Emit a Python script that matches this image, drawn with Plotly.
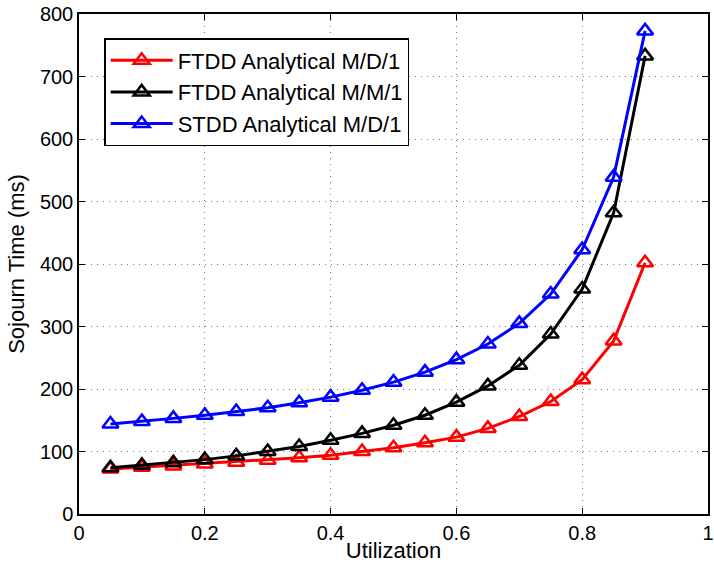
import plotly.graph_objects as go

utilization = [0.05, 0.10, 0.15, 0.20, 0.25, 0.30, 0.35, 0.40, 0.45, 0.50,
               0.55, 0.60, 0.65, 0.70, 0.75, 0.80, 0.85, 0.90]
ftdd_md1 = [72, 75, 77, 80, 83, 86, 90, 94, 100, 106, 114, 123, 137, 156, 180, 215, 277, 402]
ftdd_mm1 = [74, 78, 82, 87, 93, 100, 108, 118, 129, 142, 158, 179, 205, 238, 288, 360, 482, 733]
stdd_md1 = [144, 148, 153, 158, 164, 170, 178, 187, 198, 211, 227, 247, 272, 305, 352, 423, 539, 773]

names = ["FTDD Analytical M/D/1", "FTDD Analytical M/M/1", "STDD Analytical M/D/1"]
colors = ["#ff0000", "#000000", "#0000ff"]

fig = go.Figure()
for name, ys, c in zip(names, [ftdd_md1, ftdd_mm1, stdd_md1], colors):
    fig.add_trace(go.Scatter(
        x=utilization, y=ys, name=name, mode="lines+markers",
        line=dict(color=c, width=3),
        marker=dict(symbol="triangle-up-open", size=14, color=c, line=dict(width=2.5, color=c)),
    ))

axis_common = dict(
    showline=True, linecolor="black", linewidth=1.5, mirror="ticks",
    ticks="inside", ticklen=6, tickcolor="black", tickwidth=1,
    showgrid=True, gridcolor="#777777", griddash="1px,5px", gridwidth=1,
    zeroline=False, automargin=False, ticklabeloverflow="allow",
    tickfont=dict(family="Liberation Sans, Arial", size=20, color="black"),
)

fig.update_layout(
    width=714, height=569,
    margin=dict(l=79, r=6, t=14, b=55),
    paper_bgcolor="white", plot_bgcolor="white",
    font=dict(family="Liberation Sans, Arial", color="black"),
    xaxis=dict(range=[0, 1], dtick=0.2, title=dict(text="Utilization", font=dict(size=22), standoff=0), **axis_common),
    yaxis=dict(range=[0, 800], dtick=100, title=dict(text="Sojourn Time (ms)", font=dict(size=22), standoff=9), **axis_common),
    legend=dict(x=0.04, y=0.952, xanchor="left", yanchor="top",
                bgcolor="white", bordercolor="black", borderwidth=1.5,
                font=dict(size=22, color="black"), itemwidth=62, tracegroupgap=0),
    showlegend=True,
)

fig.write_html("out.html", config={"displayModeBar": False},
               post_script="document.body.style.margin='0';")
